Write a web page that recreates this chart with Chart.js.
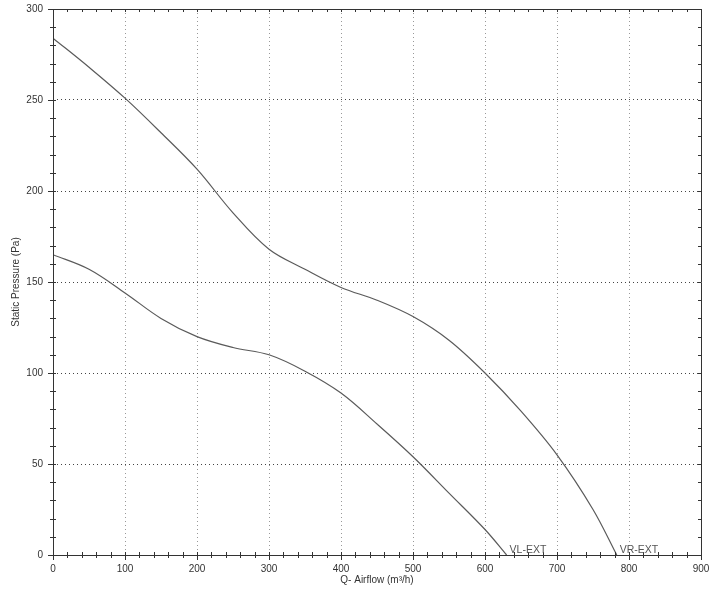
<!DOCTYPE html>
<html>
<head>
<meta charset="utf-8">
<script src="https://cdn.jsdelivr.net/npm/chart.js@4"></script>
<style>
  body { margin: 0; background: #fff; }
  #wrap { width: 720px; height: 600px; }
</style>
</head>
<body>
<div id="wrap"><canvas id="fanChart"></canvas></div>
<script>
/* --- Data --- */
const seriesNames = ['VL-EXT', 'VR-EXT'];

const vlAirflow = [0, 50, 100, 150, 200, 250, 300, 350, 400, 450, 500, 550, 600, 630];
const vlPressure = [165, 157, 144, 130, 120, 114, 110, 101, 89, 72, 54, 34, 14, 0];

const vrAirflow = [0, 50, 100, 150, 200, 250, 300, 350, 400, 450, 500, 550, 600, 650, 700, 750, 783];
const vrPressure = [284, 268, 251, 232, 212, 188, 168, 157, 147, 140, 131, 118, 100, 79, 55, 25, 0];

const xTicks = [0, 100, 200, 300, 400, 500, 600, 700, 800, 900];
const yTicks = [0, 50, 100, 150, 200, 250, 300];

const toPoints = (xs, ys) => xs.map((x, i) => ({ x: x, y: ys[i] }));

const fontFamily = '"Liberation Sans", Arial, sans-serif';
const textFont = { family: fontFamily, size: 10 };

// minor ticks crossing the frame + end labels on each curve
const framePlugin = {
    id: 'frameTicks',
    afterDraw(chart) {
        const ctx = chart.ctx;
        const xs = chart.scales.x;
        const ys = chart.scales.y;
        const a = chart.chartArea;
        ctx.save();
        ctx.strokeStyle = '#333';
        ctx.lineWidth = 1;
        ctx.beginPath();
        ctx.rect(Math.round(a.left) + 0.5, Math.round(a.top) + 0.5, Math.round(a.right - a.left), Math.round(a.bottom - a.top));
        ctx.stroke();

        ctx.beginPath();
        for (let v = 0; v <= 900; v += 20) {
            const px = Math.round(xs.getPixelForValue(v)) + 0.5;
            const major = v % 100 === 0;
            ctx.moveTo(px, a.bottom - 3);
            ctx.lineTo(px, a.bottom + (major ? 5 : 3));
            ctx.moveTo(px, a.top);
            ctx.lineTo(px, a.top + 3);
        }
        for (let v = 0; v <= 300; v += 10) {
            const py = Math.round(ys.getPixelForValue(v)) + 0.5;
            const major = v % 50 === 0;
            ctx.moveTo(a.left - (major ? 5 : 3), py);
            ctx.lineTo(a.left + 3, py);
            ctx.moveTo(a.right - 3, py);
            ctx.lineTo(a.right, py);
        }
        ctx.stroke();

        ctx.fillStyle = '#555';
        ctx.font = '10.5px ' + fontFamily;
        ctx.textBaseline = 'alphabetic';
        ctx.textAlign = 'left';
        chart.data.datasets.forEach((ds, i) => {
            const meta = chart.getDatasetMeta(i);
            const last = meta.data[meta.data.length - 1];
            ctx.fillText(ds.label, last.x + 3, last.y - 2);
        });
        ctx.restore();
    }
};

new Chart(document.getElementById('fanChart').getContext('2d'), {
    type: 'line',
    data: {
        datasets: [
            {
                label: seriesNames[0],
                data: toPoints(vlAirflow, vlPressure),
                borderColor: '#5a5a5a',
                borderWidth: 1.2,
                pointRadius: 0,
                tension: 0.35,
                fill: false
            },
            {
                label: seriesNames[1],
                data: toPoints(vrAirflow, vrPressure),
                borderColor: '#5a5a5a',
                borderWidth: 1.2,
                pointRadius: 0,
                tension: 0.35,
                fill: false
            }
        ]
    },
    options: {
        responsive: true,
        maintainAspectRatio: false,
        animation: false,
        layout: { padding: { top: 9, right: 19, left: 0, bottom: 0 } },
        plugins: {
            legend: { display: false },
            tooltip: { enabled: false }
        },
        scales: {
            x: {
                type: 'linear',
                min: 0,
                max: 900,
                afterBuildTicks: (scale) => { scale.ticks = xTicks.map(v => ({ value: v })); },
                afterFit: (scale) => { scale.height = 45; scale.paddingRight = 0; scale.paddingLeft = 0; },
                ticks: { color: '#333', font: textFont, padding: 8, maxRotation: 0 },
                grid: { color: '#999', drawTicks: false },
                border: { display: false, dash: [1, 3] },
                title: {
                    display: true,
                    text: 'Q- Airflow (m³/h)',
                    color: '#333',
                    font: textFont,
                    padding: { top: 0, bottom: 14 }
                }
            },
            y: {
                type: 'linear',
                min: 0,
                max: 300,
                afterBuildTicks: (scale) => { scale.ticks = yTicks.map(v => ({ value: v })); },
                afterFit: (scale) => { scale.width = 53; scale.paddingTop = 0; scale.paddingBottom = 0; },
                ticks: { color: '#333', font: textFont, padding: 10 },
                grid: { color: '#444', drawTicks: false },
                border: { display: false, dash: [1, 3] },
                title: {
                    display: true,
                    text: 'Static Pressure (Pa)',
                    color: '#333',
                    font: textFont,
                    padding: { top: 10, bottom: 0 }
                }
            }
        }
    },
    plugins: [framePlugin]
});
</script>
</body>
</html>
